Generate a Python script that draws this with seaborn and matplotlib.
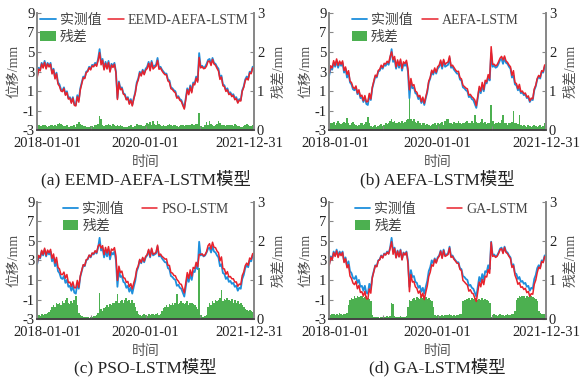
import numpy as np
import pandas as pd
import matplotlib
matplotlib.use('Agg')
import matplotlib.pyplot as plt
import matplotlib.transforms as mtransforms
import seaborn as sns

# measured displacement, one value per 10 days (2018-01-01 .. 2021-12-31)
observed = [
    2.6, 3.4, 3.2, 3.9, 3.5, 4.1, 3.4, 3.9, 3.6, 3.9,
    2.9, 3.3, 2.4, 2.9, 1.9, 1.7, 1.2, 1.1, 1.4, 0.7,
    1.0, 0.3, 0.4, -0.1, 0.4, -0.3, -0.4, 0.6, 0.1, 1.3,
    1.9, 2.5, 2.4, 3.0, 3.1, 3.5, 3.3, 3.7, 3.6, 3.9,
    3.7, 4.3, 5.3, 4.0, 4.3, 3.3, 4.0, 3.4, 4.1, 3.1,
    3.8, 3.6, 3.9, 3.0, 0.3, 2.0, 1.3, 1.4, 0.8, 0.7,
    0.2, 0.4, -0.2, 0.2, -0.4, 0.3, 0.9, 1.9, 2.3, 3.0,
    2.7, 3.2, 2.8, 3.3, 3.5, 4.0, 3.3, 4.1, 3.5, 3.6,
    3.7, 4.4, 3.4, 3.5, 3.2, 3.0, 2.8, 2.8, 2.2, 2.1,
    1.4, 1.3, 1.1, 1.0, 0.4, 0.5, 0.2, 0.1, -0.3, -0.7,
    0.3, 1.3, 0.8, 1.6, 1.0, 1.9, 1.8, 2.5, 2.1, 4.9,
    3.5, 3.6, 3.4, 3.5, 3.8, 4.2, 4.3, 3.8, 4.4, 3.9,
    3.8, 3.5, 3.3, 2.4, 2.6, 1.7, 1.6, 1.1, 1.3, 0.8,
    0.9, 0.6, 0.7, 0.3, 0.4, -0.1, 0.2, 0.1, 1.1, 1.5,
    2.2, 2.5, 2.3, 3.0, 2.9, 3.5, 3.5,
]

# residual = observed - predicted
res_eemd = [
    0.20, 0.14, 0.12, 0.11, 0.13, 0.15, 0.12, 0.10, 0.12, 0.14,
    0.13, 0.11, 0.14, 0.12, 0.16, 0.19, 0.17, 0.14, 0.12, 0.11,
    0.13, 0.10, 0.09, 0.12, 0.11, 0.14, 0.10, 0.16, 0.21, 0.17,
    0.14, 0.12, 0.11, 0.10, 0.09, 0.10, 0.12, 0.11, 0.10, 0.14,
    0.15, 0.16, 0.36, 0.30, 0.14, 0.12, 0.15, 0.13, 0.16, 0.14,
    0.12, 0.17, 0.14, 0.12, 0.14, 0.11, 0.15, 0.12, 0.10, 0.09,
    0.08, 0.10, 0.12, 0.14, 0.10, 0.09, 0.11, 0.16, 0.15, 0.13,
    0.14, 0.12, 0.11, 0.14, 0.19, 0.16, 0.21, 0.15, 0.23, 0.17,
    0.14, 0.25, 0.16, 0.13, 0.12, 0.14, 0.11, 0.12, 0.15, 0.17,
    0.14, 0.12, 0.13, 0.15, 0.11, 0.10, 0.12, 0.14, 0.15, 0.12,
    0.13, 0.14, 0.15, 0.15, 0.16, 0.15, 0.15, 0.16, 0.17, 0.45,
    0.12, 0.09, 0.10, 0.15, 0.21, 0.14, 0.23, 0.17, 0.15, 0.12,
    0.14, 0.16, 0.23, 0.19, 0.15, 0.14, 0.13, 0.12, 0.15, 0.14,
    0.13, 0.15, 0.12, 0.17, 0.14, 0.11, 0.12, 0.10, 0.09, 0.11,
    0.14, 0.16, 0.15, 0.12, 0.11, 0.13, 0.14,
]
res_aefa = [
    -0.25, -0.20, -0.18, -0.22, -0.15, -0.20, -0.24, -0.18, -0.16, -0.20,
    -0.22, -0.18, -0.33, -0.20, -0.15, -0.18, -0.22, -0.16, -0.14, -0.12,
    -0.15, -0.18, -0.20, -0.14, -0.16, -0.22, -0.35, -0.18, -0.12, -0.10,
    -0.12, -0.15, -0.10, -0.12, -0.14, -0.16, -0.12, -0.15, -0.18, -0.16,
    -0.20, -0.25, 0.28, -0.22, -0.25, -0.18, -0.20, -0.22, -0.18, -0.24,
    -0.20, -0.22, -0.26, -0.30, -0.85, -0.30, -0.25, -0.28, -0.22, -0.20,
    -0.24, -0.18, -0.15, -0.20, -0.18, -0.14, -0.16, -0.14, -0.12, -0.15,
    -0.16, -0.18, -0.14, -0.20, -0.16, -0.18, -0.22, -0.15, -0.24, -0.30,
    -0.28, -0.20, -0.18, -0.16, -0.22, -0.18, -0.20, -0.24, -0.18, -0.16,
    -0.20, -0.18, -0.22, -0.25, -0.20, -0.18, -0.24, -0.20, -0.40, -0.22,
    -0.18, -0.20, -0.22, -0.30, -0.18, -0.22, -0.16, -0.20, -0.18, -0.65,
    -0.25, -0.16, -0.18, -0.20, -0.22, -0.18, -0.26, -0.40, -0.20, -0.18,
    -0.15, -0.18, -0.20, -0.22, -0.50, -0.20, -0.18, -0.16, -0.40, -0.15,
    -0.12, -0.14, -0.12, -0.10, -0.13, -0.11, -0.10, -0.12, -0.14, -0.11,
    -0.10, -0.12, -0.14, -0.10, -0.12, -0.18, -0.20,
]
res_pso = [
    -0.15, -0.10, -0.08, -0.12, -0.10, -0.14, -0.12, -0.15, -0.18, -0.22,
    -0.30, -0.35, -0.32, -0.40, -0.38, -0.42, -0.36, -0.45, -0.40, -0.48,
    -0.55, -0.42, -0.38, -0.45, -0.40, -0.50, -0.60, -0.35, -0.15, -0.10,
    -0.08, -0.06, -0.05, -0.06, -0.05, -0.04, -0.06, -0.05, -0.07, -0.08,
    -0.10, -0.15, 0.67, -0.25, -0.20, -0.28, -0.32, -0.35, -0.30, -0.38,
    -0.36, -0.42, -0.40, -0.45, -0.65, -0.40, -0.45, -0.50, -0.42, -0.48,
    -0.55, -0.45, -0.50, -0.42, -0.48, -0.40, -0.30, -0.20, -0.12, -0.10,
    -0.08, -0.10, -0.12, -0.10, -0.08, -0.12, -0.10, -0.14, -0.12, -0.10,
    -0.12, -0.15, -0.10, -0.14, -0.20, -0.28, -0.32, -0.35, -0.30, -0.38,
    -0.35, -0.40, -0.36, -0.42, -0.65, -0.38, -0.40, -0.45, -0.42, -0.38,
    -0.40, -0.45, -0.36, -0.42, -0.40, -0.38, -0.35, -0.30, -0.25, 1.30,
    -0.10, -0.06, -0.05, -0.08, -0.10, -0.30, -0.40, -0.36, -0.45, -0.42,
    -0.50, -0.45, -0.48, -0.55, -0.75, -0.45, -0.52, -0.48, -0.55, -0.50,
    -0.45, -0.52, -0.42, -0.48, -0.40, -0.45, -0.38, -0.42, -0.35, -0.30,
    -0.25, -0.22, -0.20, -0.24, -0.20, -0.18, -0.22,
]
res_ga = [
    0.12, 0.10, 0.14, 0.12, 0.10, 0.13, 0.11, 0.15, 0.12, 0.10,
    0.12, 0.14, 0.16, 0.35, 0.50, 0.55, 0.52, 0.58, 0.55, 0.60,
    0.56, 0.58, 0.60, 0.55, 0.57, 0.60, 0.55, 0.52, 0.45, 0.10,
    0.06, 0.05, 0.06, 0.05, 0.04, 0.05, 0.06, 0.05, 0.06, 0.07,
    0.06, 0.08, 0.40, 0.38, 0.08, 0.05, 0.06, 0.05, 0.07, 0.06,
    0.05, 0.06, 0.08, 0.30, 0.50, 0.45, 0.52, 0.55, 0.50, 0.56,
    0.55, 0.52, 0.58, 0.55, 0.60, 0.56, 0.52, 0.55, 0.50, 0.45,
    0.30, 0.10, 0.08, 0.10, 0.09, 0.08, 0.10, 0.09, 0.10, 0.11,
    0.10, 0.12, 0.10, 0.09, 0.10, 0.08, 0.10, 0.11, 0.12, 0.14,
    0.45, 0.50, 0.48, 0.52, 0.55, 0.50, 0.54, 0.52, 0.55, 0.50,
    0.48, 0.52, 0.50, 0.55, 0.48, 0.52, 0.50, 0.45, 0.42, 0.05,
    0.10, 0.12, 0.10, 0.09, 0.10, 0.12, 0.11, 0.10, 0.09, 0.10,
    0.12, 0.10, 0.11, 0.13, 0.14, 0.20, 0.50, 0.55, 0.58, 0.56,
    0.60, 0.58, 0.55, 0.60, 0.57, 0.58, 0.60, 0.56, 0.55, 0.52,
    0.45, 0.20, 0.15, 0.12, 0.14, 0.12, 0.15,
]

models = ['EEMD-AEFA-LSTM', 'AEFA-LSTM', 'PSO-LSTM', 'GA-LSTM']
captions = ['(a) EEMD-AEFA-LSTM模型', '(b) AEFA-LSTM模型',
            '(c) PSO-LSTM模型', '(d) GA-LSTM模型']
residuals = [res_eemd, res_aefa, res_pso, res_ga]

tick_dates = ['2018-01-01', '2019-01-01', '2020-01-01', '2021-01-01', '2021-12-31']
tick_labels = ['2018-01-01', '', '2020-01-01', '', '2021-12-31']

BLUE = '#1e8fdc'
RED = '#e8222c'
GREEN = '#4cb050'

# legend left edge (axes fraction) and column gap, per panel
legend_x = [0.008, 0.097, 0.112, 0.112]
legend_gap = [0.5, 0.7, 1.3, 2.2]

dates = pd.date_range('2018-01-01', '2021-12-31', periods=len(observed))

sns.set_theme(style='ticks')
plt.rcParams['font.family'] = ['Liberation Serif', 'Noto Sans CJK SC']
plt.rcParams['axes.unicode_minus'] = False

fig, axes = plt.subplots(2, 2, figsize=(5.81, 3.79), dpi=100)
fig.subplots_adjust(left=0.064, right=0.94, top=0.966, bottom=0.158,
                    wspace=0.346, hspace=0.605)

for k, ax in enumerate(axes.flat):
    res = np.array(residuals[k])
    pred = np.array(observed) - res

    ax2 = ax.twinx()
    bars = ax2.bar(dates, np.abs(res), width=12, color=GREEN, linewidth=0)
    sns.lineplot(x=dates, y=observed, ax=ax, color=BLUE, lw=1.3, label='实测值')
    sns.lineplot(x=dates, y=pred, ax=ax, color=RED, lw=1.1, label=models[k])
    ax.set_zorder(ax2.get_zorder() + 1)
    ax.patch.set_visible(False)

    h, l = ax.get_legend_handles_labels()
    leg = ax.legend([h[0], bars, h[1]], [l[0], '残差', l[1]], ncol=2,
                    loc='upper left', bbox_to_anchor=(legend_x[k], 1.0), frameon=False,
                    fontsize=10, handlelength=1.1, handletextpad=0.3,
                    columnspacing=legend_gap[k], labelspacing=0.25, borderaxespad=0,
                    borderpad=0.1)
    for t in leg.get_texts():
        t.set_color('#444444')

    ax.set_xlim(dates[0], dates[-1])
    ax.set_xticks(pd.to_datetime(tick_dates))
    ax.set_xticklabels(tick_labels)
    ax.set_ylim(-3, 9)
    ax.set_yticks(range(-3, 10, 2))
    ax2.set_ylim(0, 3)
    ax2.set_yticks([0, 1, 2, 3])

    ax.set_ylabel('位移/mm', fontsize=10, color='#555555', labelpad=1)
    ax2.set_ylabel('残差/mm', fontsize=10, color='#555555', labelpad=6)
    ax.set_xlabel('时间', fontsize=10, color='#555555', labelpad=4)

    for a in (ax, ax2):
        a.tick_params(direction='in', length=3, width=0.8, colors='#888888',
                      labelcolor='#222222', labelsize=10.5, pad=2)
        a.spines['top'].set_visible(False)
        for s in ('left', 'right'):
            a.spines[s].set_color('#888888')
        a.spines['bottom'].set_color('#444444')
    ax.tick_params(axis='x', pad=5)

    # nudge the end labels like the original
    shift = [(10, -5), (6, 0)][k % 2]
    xl = ax.get_xticklabels()
    xl[0].set_transform(xl[0].get_transform() +
                        mtransforms.ScaledTranslation(shift[0] / 100, 0, fig.dpi_scale_trans))
    xl[-1].set_transform(xl[-1].get_transform() +
                         mtransforms.ScaledTranslation(shift[1] / 100, 0, fig.dpi_scale_trans))

    ax.text(0.5, -0.41, captions[k], transform=ax.transAxes, ha='center',
            va='center', fontsize=12.5, color='#222222')

fig.savefig('out.png', dpi=100)
